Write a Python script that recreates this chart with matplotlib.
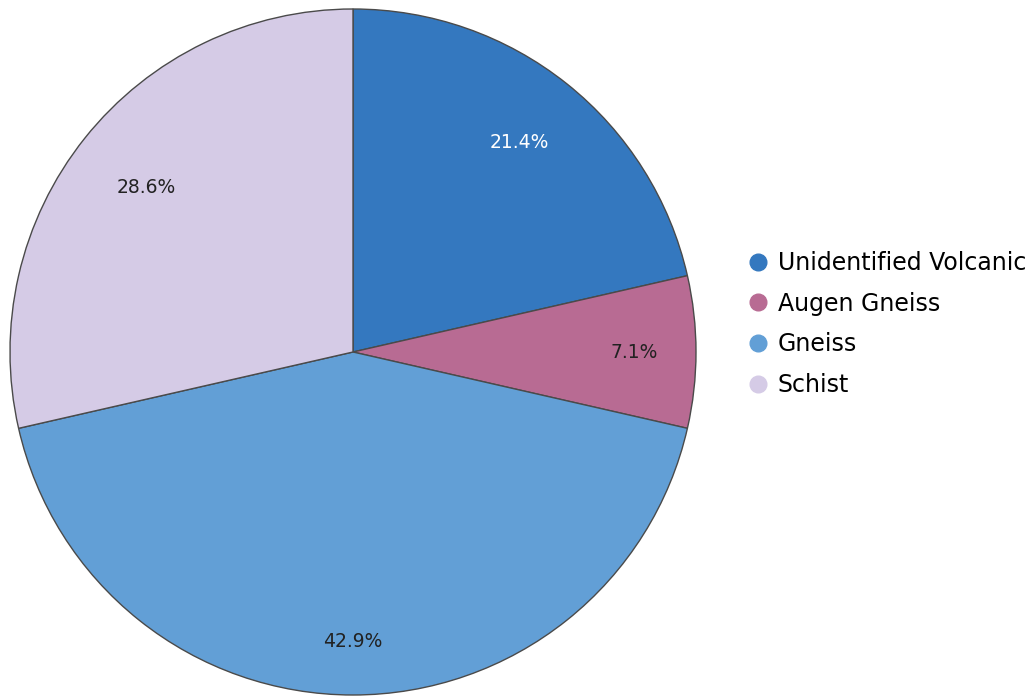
import matplotlib
matplotlib.use("Agg")
import matplotlib.pyplot as plt
import numpy as np
from matplotlib.lines import Line2D

labels = ["Unidentified Volcanic", "Augen Gneiss", "Gneiss", "Schist"]
counts = [3, 1, 6, 4]
colors = ["#3478bf", "#b86b93", "#629fd6", "#d5cbe6"]
text_colors = ["white", "#222222", "#222222", "#222222"]
label_dist = [0.78, 0.82, 0.845, 0.77]

fig = plt.figure(figsize=(10.34, 6.96), dpi=100)
cx, cy, r = 353, 352, 343
W, H = 1034, 696
ax = fig.add_axes([(cx - r) / W, (H - cy - r) / H, 2 * r / W, 2 * r / H])

wedges, texts, autotexts = ax.pie(
    counts,
    colors=colors,
    startangle=90,
    counterclock=False,
    autopct="%.1f%%",
    pctdistance=0.8,
    wedgeprops=dict(edgecolor="#4a4a4a", linewidth=1.0, clip_on=False),
    textprops=dict(fontsize=13.5),
)
for w, t, c, d in zip(wedges, autotexts, text_colors, label_dist):
    mid = np.deg2rad((w.theta1 + w.theta2) / 2)
    t.set_position((d * np.cos(mid), d * np.sin(mid)))
    t.set_color(c)
ax.set_xlim(-1, 1)
ax.set_ylim(-1, 1)
ax.set_aspect("equal")
ax.axis("off")

handles = [Line2D([], [], marker="o", linestyle="", markersize=12,
                  markerfacecolor=c, markeredgecolor=c) for c in colors]
fig.legend(handles, labels, loc="center left", bbox_to_anchor=(733 / W, 1 - 324 / H),
           frameon=False, fontsize=17, handletextpad=0.25, labelspacing=0.7,
           handlelength=1.15, borderpad=0)

fig.savefig("out.png", dpi=100)
